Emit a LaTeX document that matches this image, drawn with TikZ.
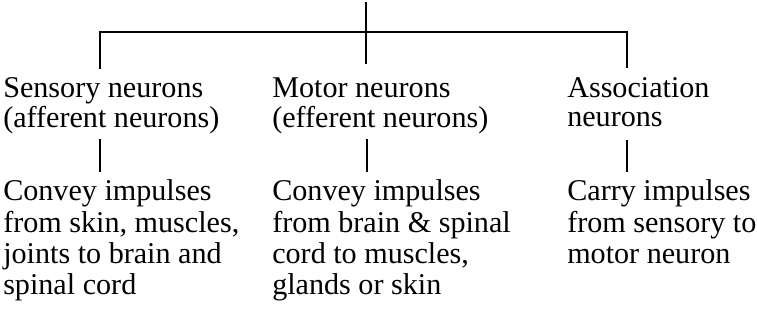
\documentclass[tikz,border=0pt]{standalone}
\usepackage{fontspec}
\setmainfont{Liberation Serif}
\begin{document}
\begin{tikzpicture}[x=0.75pt,y=-0.75pt,
  txt/.style={anchor=base west, inner sep=0pt, font=\fontsize{22.6}{21.75}\selectfont},
  body/.style={txt, font=\fontsize{22.6}{23.4}\selectfont},
  ln/.style={line width=1.1pt, line cap=rect}]
\useasboundingbox (0,0) rectangle (757,323);
% heads
\node[txt] (sens) at (3,98) {\begin{tabular}[t]{@{}l@{}}Sensory neurons\\(afferent neurons)\end{tabular}};
\node[txt] (motor) at (272,98) {\begin{tabular}[t]{@{}l@{}}Motor neurons\\(efferent neurons)\end{tabular}};
\node[txt] (assoc) at (567,98) {\begin{tabular}[t]{@{}l@{}}Association\\neurons\end{tabular}};
% bodies
\node[body] (sensb) at (3,201) {\begin{tabular}[t]{@{}l@{}}Convey impulses\\from skin, muscles,\\joints to brain and\\spinal cord\end{tabular}};
\node[body] (motorb) at (272,201) {\begin{tabular}[t]{@{}l@{}}Convey impulses\\from brain \& spinal\\cord to muscles,\\glands or skin\end{tabular}};
\node[body] (assocb) at (567,201) {\begin{tabular}[t]{@{}l@{}}Carry impulses\\from sensory to\\motor neuron\end{tabular}};
% tree coordinates
\coordinate (top) at (366,3);
\coordinate (mid) at (366,63);
\coordinate (bar) at (366,32);
\coordinate (lft) at (100,68);
\coordinate (rgt) at (627,67);
\draw[ln] (top) -- (mid);
\draw[ln] (lft) -- (lft |- bar) -- (rgt |- bar) -- (rgt);
% lower connectors
\coordinate (s1) at (100,140); \coordinate (s2) at (100,171);
\coordinate (m1) at (367,140); \coordinate (m2) at (367,171);
\coordinate (a1) at (627,141); \coordinate (a2) at (627,171);
\draw[ln] (s1) -- (s2);
\draw[ln] (m1) -- (m2);
\draw[ln] (a1) -- (a2);
\end{tikzpicture}
\end{document}
